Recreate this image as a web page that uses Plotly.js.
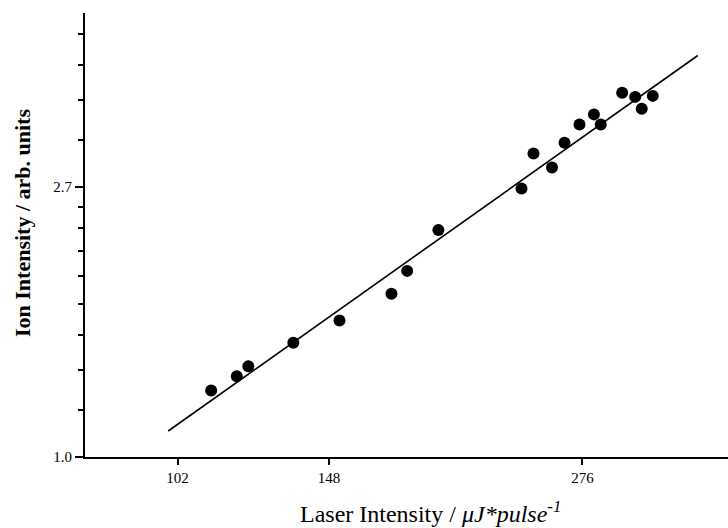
<!DOCTYPE html>
<html>
<head>
<meta charset="utf-8">
<script src="https://cdn.plot.ly/plotly-3.0.1.min.js"></script>
<style>html,body{margin:0;padding:0;background:#fff;}#chart{width:728px;height:528px;}</style>
</head>
<body>
<div id="chart"></div>
<script>
// Measured data (laser intensity, ion intensity)
var laserIntensity = [110.8, 118.0, 121.4, 135.6, 151.9, 172.6, 179.4, 193.7, 237.6, 244.7, 256.1, 264.1, 274.0, 283.9, 288.7, 304.3, 314.2, 319.3, 328.1];
var ionIntensity   = [1.279, 1.348, 1.399, 1.527, 1.658, 1.830, 1.992, 2.318, 2.702, 3.077, 2.920, 3.202, 3.425, 3.556, 3.425, 3.851, 3.794, 3.631, 3.808];
// Fitted line end points
var fitX = [99.7, 366.5];
var fitY = [1.101, 4.422];
// Tick values and labels
var xTickVals = [102, 148, 276];
var xTickText = ['102', '148', '276'];
var yTickVals = [1, Math.E];
var yTickText = ['1.0', '2.7'];
var yMinorVals = [];
(function(){
  var e = Math.E, k;
  for (k = 1; k <= 8; k++) yMinorVals.push(1 + k * (e - 1) / 9);
  for (k = 1; k <= 4; k++) yMinorVals.push(e + k * (e * e - e) / 9);
})();

var font = 'Liberation Serif, Times New Roman, serif';
var xRange = [Math.log10(Math.exp(4.3976)), Math.log10(Math.exp(5.9782))];
var yRange = [0, Math.log10(Math.exp(1.644))];

var traces = [
  {x: fitX, y: fitY, mode: 'lines', type: 'scatter', line: {color: '#000', width: 1.6}, hoverinfo: 'skip'},
  {x: laserIntensity, y: ionIntensity, mode: 'markers', type: 'scatter', marker: {color: '#000', size: 12}}
];
var layout = {
  width: 728, height: 528,
  margin: {l: 85, r: 0, t: 13, b: 71},
  paper_bgcolor: '#fff', plot_bgcolor: '#fff',
  showlegend: false,
  font: {family: font, color: '#000', size: 15},
  xaxis: {
    type: 'log',
    range: xRange,
    tickmode: 'array', tickvals: xTickVals, ticktext: xTickText,
    ticks: 'outside', ticklen: 6, tickwidth: 2, tickcolor: '#000',
    showline: true, linecolor: '#000', linewidth: 2,
    showgrid: false, zeroline: false,
    tickfont: {family: font, size: 15, color: '#000'}
  },
  yaxis: {
    type: 'log',
    range: yRange,
    tickmode: 'array', tickvals: yTickVals, ticktext: yTickText,
    ticks: 'outside', ticklen: 8, tickwidth: 2, tickcolor: '#000',
    minor: {tickmode: 'array', tickvals: yMinorVals, ticks: 'outside', ticklen: 5, tickwidth: 2, tickcolor: '#000', showgrid: false},
    showline: true, linecolor: '#000', linewidth: 2,
    showgrid: false, zeroline: false,
    tickfont: {family: font, size: 15, color: '#000'}
  },
  annotations: [
    {xref: 'paper', yref: 'paper', x: 0.537, y: -0.124, xanchor: 'center', yanchor: 'middle', showarrow: false,
     text: 'Laser Intensity / <i>μJ*pulse</i><sup><i>-1</i></sup>', font: {family: font, size: 24, color: '#000'}},
    {xref: 'paper', yref: 'paper', x: -0.098, y: 0.527, xanchor: 'center', yanchor: 'middle', showarrow: false, textangle: -90,
     text: '<b>Ion Intensity / arb. units</b>', font: {family: font, size: 22, color: '#000'}}
  ]
};
Plotly.newPlot('chart', traces, layout, {displayModeBar: false, staticPlot: true});
</script>
</body>
</html>
